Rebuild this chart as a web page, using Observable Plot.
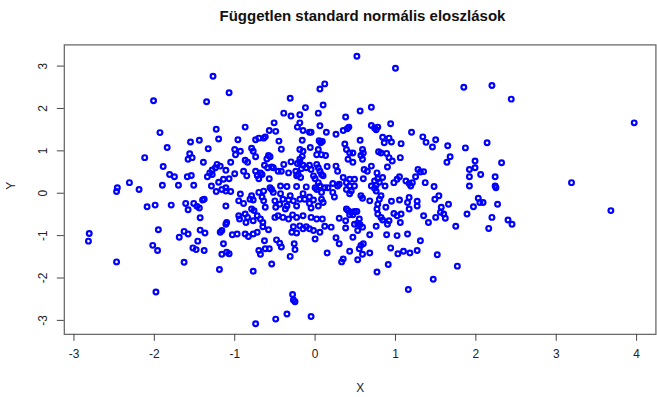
<!DOCTYPE html>
<html>
<head>
<meta charset="utf-8">
<script src="https://cdn.jsdelivr.net/npm/d3@7"></script>
<script src="https://cdn.jsdelivr.net/npm/@observablehq/plot@0.6"></script>
<style>
  html, body { margin: 0; padding: 0; background: #fff; overflow: hidden; width: 657px; height: 397px; }
  #title { height: 30px; line-height: 31px; margin-left: 64px; width: 597px; text-align: center;
           font-family: "Liberation Sans", Arial, sans-serif; font-weight: bold; font-size: 15px; color: #111; }
  #chart svg { display: block; }
</style>
</head>
<body>
<div id="title">Független standard normális eloszlások</div>
<div id="chart"></div>
<script>
const titleText = "Független standard normális eloszlások";
const xLabel = "X";
const yLabel = "Y";
const xTicks = [-3, -2, -1, 0, 1, 2, 3, 4];
const yTicks = [-3, -2, -1, 0, 1, 2, 3];

const xValues = [
  -2.01,-1.35,-1.93,-1.55,-1.44,-1.84,-1.56,-1.58,-1.53,-2.12,
  -1.39,-1.33,-1.89,-1.81,-1.75,-1.59,-1.54,-1.34,-2.31,-2.46,
  -2.19,-1.90,-1.70,-1.51,-2.47,-2.09,-1.99,-1.79,-1.61,-1.58,
  -1.51,-1.47,-1.44,-1.40,-1.43,-1.95,-2.81,-2.82,-1.63,-1.58,
  -1.69,-1.43,-1.37,-1.46,-2.02,-1.96,-1.52,-1.48,-1.38,-2.47,
  -1.63,-1.98,
  -1.27,-1.07,0.12,0.06,-0.31,0.10,-0.12,0.04,-0.39,-0.30,
  -0.19,-0.51,-0.22,-0.19,-0.87,-1.23,-0.57,-0.49,-0.15,-0.07,
  -0.05,0.06,0.14,0.38,0.26,0.35,0.42,0.40,-1.20,-0.96,
  -0.74,-0.70,-0.64,-0.62,-0.45,-0.16,0.05,0.07,0.09,-1.00,
  -0.93,-0.99,-0.79,-0.77,-0.74,-0.42,-0.19,-0.15,-0.16,-0.19,
  -0.06,0.04,0.02,0.08,0.13,0.37,0.39,0.43,0.41,-0.58,
  -0.60,-0.56,-0.87,-0.84,-1.05,-1.22,-1.18,-1.24,-1.28,-1.31,
  -1.28,-0.63,-0.59,-0.54,-0.52,-0.39,-0.30,-0.22,-0.19,-0.15,
  -0.17,-0.24,-0.21,-0.11,-0.07,-0.05,0.02,0.04,0.06,0.08,
  0.10,0.15,0.26,0.28,-1.11,-1.00,-0.89,-0.85,-0.74,-0.72,
  -0.68,-0.66,-0.70,-0.57,-0.46,-0.42,-0.33,-0.23,-0.18,-0.02,
  0.00,0.35,0.39,0.43,0.22,0.30,-1.14,-1.20,-1.07,-1.29,
  -1.11,-0.56,-0.43,-0.35,-0.23,-0.11,0.00,0.04,0.06,0.12,
  0.16,
  0.52,1.00,1.85,2.20,0.56,0.70,0.70,0.74,0.78,0.76,
  0.94,1.20,1.34,1.38,1.46,1.50,0.84,0.86,0.92,0.95,
  0.56,1.07,1.65,1.87,2.14,0.47,0.47,0.59,0.60,0.57,
  0.59,0.79,0.82,0.89,0.92,0.96,1.06,1.68,1.64,1.99,
  1.99,1.92,1.92,2.06,0.70,0.65,0.61,0.60,0.49,0.90,
  0.77,0.78,0.74,0.80,0.76,0.70,0.84,1.28,1.31,1.35,
  1.05,1.02,0.98,1.13,1.17,1.21,1.25,1.37,1.48,1.92,
  2.24,2.24,0.49,0.43,0.87,1.19,
  2.44,3.97,2.32,3.19,2.25,
  2.27,3.68,2.20,2.40,2.45,
  0.45,0.74,0.76,0.57,0.59,0.68,0.82,0.80,0.78,0.95,
  1.05,1.17,1.15,1.17,1.27,1.27,1.49,1.54,1.57,1.56,
  1.60,1.50,1.62,1.66,2.03,2.05,2.09,1.97,1.89,2.16,
  0.41,0.45,0.49,0.52,0.43,0.47,0.77,0.78,0.88,0.82,
  0.84,0.90,0.92,0.98,1.02,1.07,1.06,0.55,0.53,0.56,
  0.49,0.59,1.35,1.41,1.75,0.76,0.47,0.68,0.89,1.02,
  1.15,1.31,0.53,0.57,0.55,0.60,0.43,0.68,0.59,0.94,
  1.03,1.10,1.18,1.27,0.53,1.52,0.91,1.77,0.77,1.47,
  1.16,
  -1.23,-1.16,-1.11,-1.05,-0.93,-0.79,-0.70,-0.64,-0.66,-0.54,
  -0.52,-0.43,-0.15,0.02,0.08,0.22,0.28,0.39,0.43,-1.38,
  -0.95,-0.89,-0.81,-0.77,-0.64,-0.62,-0.50,-0.49,-0.44,-0.40,
  -0.37,-0.35,-0.33,-0.31,-0.27,-0.23,-0.19,-0.13,-0.07,-0.07,
  -0.02,-0.05,0.08,0.10,0.04,0.24,-1.11,0.39,-0.95,-0.94,
  -0.87,-0.84,-0.79,-0.76,-0.72,-0.86,-0.77,-0.68,-0.65,-0.50,
  -0.46,-0.40,-0.33,-0.28,-0.23,-0.15,-0.05,0.02,0.09,0.30,
  0.38,-1.18,-1.16,-1.11,-1.10,-1.03,-0.97,-0.87,-0.83,-0.77,
  -0.72,-0.58,-0.65,-0.29,-0.23,-0.27,-0.19,-0.15,-0.11,-0.07,
  -0.02,0.06,0.12,0.20,0.38,-1.14,-1.16,-1.10,-1.07,-0.63,
  -0.48,-0.44,-0.42,-0.26,-0.25,-0.31,-0.70,-0.68,-0.62,-0.57,
  0.00,0.26,0.30,0.15,-0.54,-0.77,-1.19,0.35,0.33,-0.28,
  -0.27,-0.25,-0.35,-0.49,-0.05,-0.74
];

const yValues = [
  2.18,2.16,1.43,1.21,1.25,1.08,0.93,0.80,0.84,0.84,
  0.73,1.05,0.63,0.44,0.39,0.39,0.42,0.39,0.25,0.13,
  0.09,0.19,0.19,0.19,0.04,-0.32,-0.28,-0.28,-0.24,-0.39,
  -0.24,-0.31,-0.35,-0.16,-0.58,-0.86,-0.95,-1.13,-0.90,-0.96,
  -1.04,-0.87,-0.94,-1.13,-1.23,-1.35,-1.29,-1.33,-1.35,-1.62,
  -1.63,-2.33,
  2.76,2.37,2.58,2.46,2.24,2.08,2.02,1.89,1.89,1.82,
  1.85,1.66,1.56,1.66,1.56,1.51,1.48,1.46,1.48,1.44,
  1.44,1.59,1.44,1.80,1.39,1.48,1.56,1.52,1.28,1.26,
  1.26,1.30,1.30,1.33,1.23,1.25,1.24,1.19,1.22,1.03,
  0.99,0.91,1.06,0.99,0.86,1.04,1.03,0.99,0.87,0.80,
  1.08,1.03,0.91,0.91,0.89,1.16,1.03,0.95,0.80,0.89,
  0.81,0.86,0.78,0.73,0.73,0.68,0.64,0.60,0.55,0.48,
  0.44,0.66,0.60,0.62,0.60,0.68,0.74,0.70,0.73,0.66,
  0.58,0.52,0.44,0.60,0.66,0.56,0.68,0.60,0.52,0.44,
  0.41,0.63,0.64,0.52,0.54,0.46,0.52,0.41,0.52,0.42,
  0.48,0.44,0.34,0.34,0.52,0.52,0.48,0.41,0.37,0.41,
  0.34,0.37,0.25,0.33,0.23,0.21,0.33,0.26,0.34,0.17,
  0.13,0.13,0.17,0.16,0.16,0.15,0.13,0.25,0.17,0.13,
  0.13,
  3.23,2.95,2.50,2.54,1.94,2.03,1.60,1.54,1.56,1.50,
  1.64,1.44,1.33,1.20,1.09,1.26,1.32,1.19,1.30,1.21,
  1.25,1.17,1.12,1.07,1.19,0.95,0.73,1.03,0.95,0.89,
  0.80,0.98,0.95,0.94,0.84,0.76,0.84,0.86,0.73,0.76,
  0.60,0.56,0.39,0.44,0.64,0.52,0.56,0.34,0.33,0.62,
  0.48,0.34,0.29,0.26,0.19,0.17,0.37,0.56,0.50,0.51,
  0.39,0.33,0.25,0.29,0.23,0.25,0.39,0.25,0.16,0.17,
  0.39,0.17,0.17,0.17,0.17,0.17,
  2.22,1.66,0.72,0.25,0.13,
  -0.26,-0.41,-0.57,-0.63,-0.73,
  0.05,0.12,0.05,-0.06,-0.12,-0.18,-0.06,-0.14,-0.26,-0.19,
  -0.16,-0.10,-0.22,-0.37,-0.19,-0.30,-0.14,-0.06,-0.33,-0.45,
  -0.49,-0.57,-0.59,-0.26,-0.12,-0.22,-0.22,-0.32,-0.49,-0.83,
  -0.41,-0.45,-0.43,-0.43,-0.51,-0.51,-0.37,-0.49,-0.33,-0.57,
  -0.63,-0.73,-0.65,-0.48,-0.53,-0.49,-0.69,-0.61,-0.71,-0.74,
  -0.73,-0.80,-0.53,-0.69,-0.78,-0.78,-1.04,-0.98,-0.98,-1.00,
  -0.96,-1.12,-0.88,-1.23,-1.31,-1.19,-1.37,-1.41,-1.44,-1.29,
  -1.43,-1.37,-1.41,-1.35,-1.57,-1.45,-1.68,-1.72,-1.86,-2.03,
  -2.27,
  0.04,0.09,0.05,0.04,-0.02,-0.06,0.02,0.05,-0.09,0.09,
  0.02,-0.01,-0.01,0.09,0.02,0.02,0.17,0.09,-0.01,-0.14,
  -0.18,-0.24,-0.14,-0.16,-0.18,-0.33,-0.18,-0.33,-0.26,-0.14,
  -0.37,-0.30,-0.16,-0.06,-0.18,-0.30,-0.14,-0.14,-0.09,-0.24,
  -0.16,-0.35,-0.14,-0.22,-0.30,-0.09,-0.30,-0.37,-0.53,-0.61,
  -0.49,-0.57,-0.37,-0.41,-0.53,-0.69,-0.65,-0.61,-0.69,-0.57,
  -0.53,-0.57,-0.61,-0.51,-0.57,-0.53,-0.57,-0.61,-0.61,-0.59,
  -0.65,-0.92,-0.88,-0.73,-0.69,-0.98,-0.96,-0.96,-1.02,-0.96,
  -0.92,-0.86,-0.79,-0.92,-0.94,-0.79,-0.77,-0.84,-0.79,-0.84,
  -0.88,-0.92,-0.78,-0.80,-0.82,-1.19,-1.44,-1.39,-1.43,-1.12,
  -1.10,-1.18,-1.27,-1.19,-1.33,-1.49,-1.35,-1.44,-1.31,-1.31,
  -1.08,-1.05,-1.19,-1.41,-1.67,-1.84,-1.80,-1.55,-1.62,-2.39,
  -2.52,-2.56,-2.85,-2.97,-2.91,-3.08
];

const points = xValues.map((x, i) => ({x, y: yValues[i]}));
const font = '"Liberation Sans", Arial, sans-serif';

const chart = Plot.plot({
  width: 662,
  height: 367,
  marginLeft: 64.3,
  marginRight: 1.6,
  marginTop: 14.5,
  marginBottom: 60.8,
  style: {fontFamily: font, fontSize: "12px", color: "#222", background: "#fff"},
  x: {domain: [-3.12, 4.24], axis: null},
  y: {domain: [-3.33, 3.5], axis: null},
  marks: [
    Plot.frame({stroke: "#6a6a6a", strokeWidth: 1.3}),
    Plot.axisX({ticks: xTicks, tickSize: 7, tickPadding: 8, tickFormat: d => String(d), label: null, stroke: "#444", fill: "#222"}),
    Plot.axisY({ticks: yTicks, tickSize: 7, tickFormat: () => "", label: null, stroke: "#444"}),
    Plot.text(yTicks, {y: d => d, text: d => String(d), frameAnchor: "left", rotate: -90, textAnchor: "middle", lineAnchor: "middle", dx: -21, fill: "#222"}),
    Plot.text([xLabel], {text: d => d, frameAnchor: "bottom", dy: 54, lineAnchor: "middle", fill: "#222"}),
    Plot.text([yLabel], {text: d => d, frameAnchor: "left", rotate: -90, dx: -54, lineAnchor: "middle", fill: "#222"}),
    Plot.dot(points, {x: "x", y: "y", r: 2.4, stroke: "#0000ff", strokeWidth: 2.2, fill: "none"})
  ]
});
document.getElementById("chart").appendChild(chart);
</script>
</body>
</html>
